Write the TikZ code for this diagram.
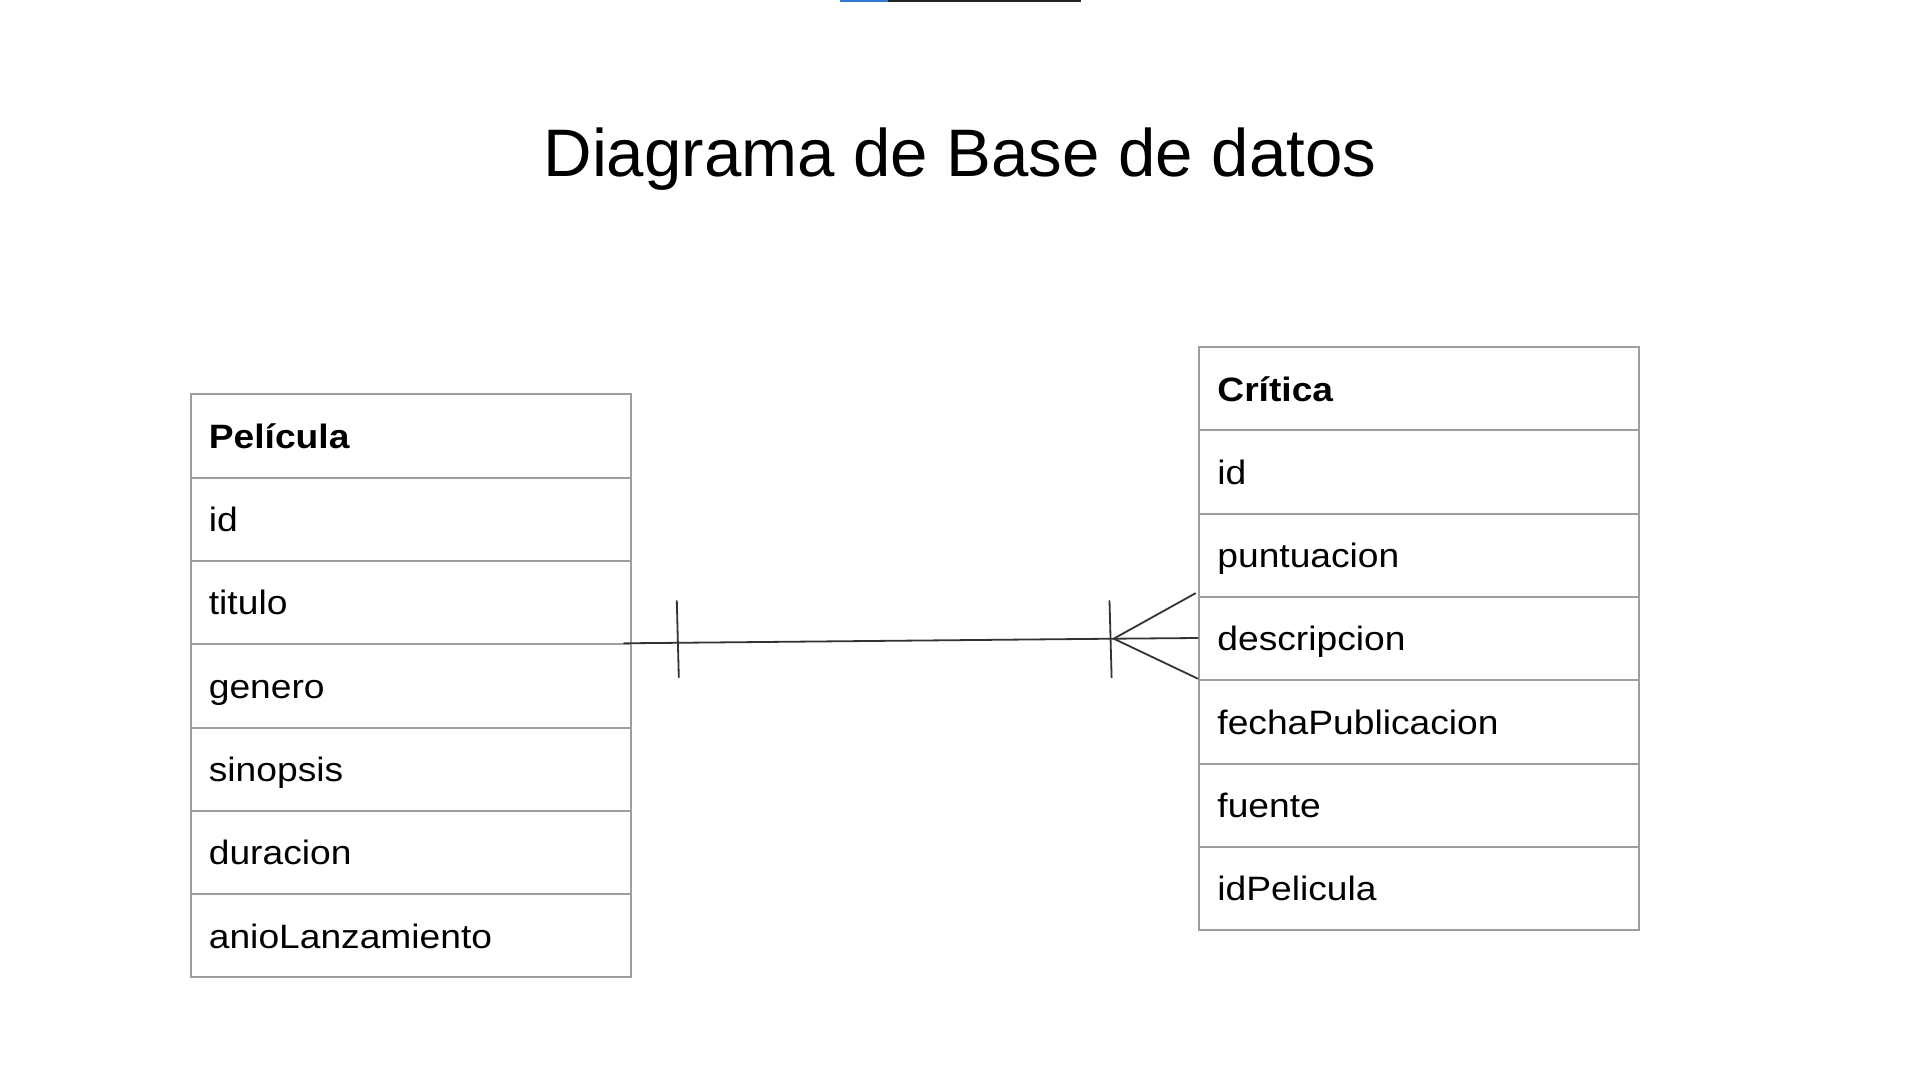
\documentclass[tikz,border=0pt]{standalone}
\usepackage{fontspec}
\setmainfont{Liberation Sans}
\newfontfamily\cellfont{Liberation Sans}[FakeStretch=1.1]
\definecolor{boxgray}{HTML}{9E9E9E}
\definecolor{linkgray}{HTML}{333333}
\definecolor{topblue}{HTML}{2B7BD6}
\definecolor{topdark}{HTML}{222222}
\begin{document}
\begin{tikzpicture}[x=0.5pt,y=-0.5pt,
  cell/.style={draw=boxgray,line width=1pt,minimum width=220pt,minimum height=41.65pt,inner sep=0pt,anchor=north west},
  celltext/.style={anchor=base west,inner sep=0pt,font=\cellfont\fontsize{16.9pt}{20pt}\selectfont},
  link/.style={draw=linkgray,line width=0.9pt,line cap=round}]
\useasboundingbox[fill=white] (0,0) rectangle (1920,1080);
% top artefact line
\draw[topblue,line width=1.2pt] (840,1) -- (888,1);
\draw[topdark,line width=1.2pt] (888,1) -- (1081,1);
% title
\node[font=\fontsize{33.6pt}{40pt}\selectfont,anchor=base,inner sep=0pt] (title) at (960,176.7) {Diagrama de Base de datos};
% Pelicula table
\foreach \txt [count=\i from 0] in {{\textbf{Película}},id,titulo,genero,sinopsis,duracion,anioLanzamiento} {
  \node[cell] (p\i) at (189.5,{393.3+83.3*\i}) {};
  \node[celltext] (pt\i) at (208.5,{448.3+83.3*\i}) {\txt};
}
% Critica table
\foreach \txt [count=\i from 0] in {{\textbf{Crítica}},id,puntuacion,descripcion,fechaPublicacion,fuente,idPelicula} {
  \node[cell] (c\i) at (1197.7,{346+83.3*\i}) {};
  \node[celltext] (ct\i) at (1217,{401+83.3*\i}) {\txt};
}
% relationship
\coordinate (cL) at (624,643.3);
\coordinate (cR) at (1113.7,638.7);
\coordinate (t1a) at (676.8,601);
\coordinate (t1b) at (678.8,677.3);
\coordinate (t2a) at (1109.5,601);
\coordinate (t2b) at (1111.6,677.3);
\coordinate (fU) at (1195.4,593.3);
\coordinate (fM) at (1197.7,638);
\coordinate (fD) at (1197.7,678.6);
\draw[link] (cL) -- (cR);
\draw[link] (t1a) -- (t1b);
\draw[link] (t2a) -- (t2b);
\draw[link] (cR) -- (fU);
\draw[link] (cR) -- (fM);
\draw[link] (cR) -- (fD);
\end{tikzpicture}
\end{document}
